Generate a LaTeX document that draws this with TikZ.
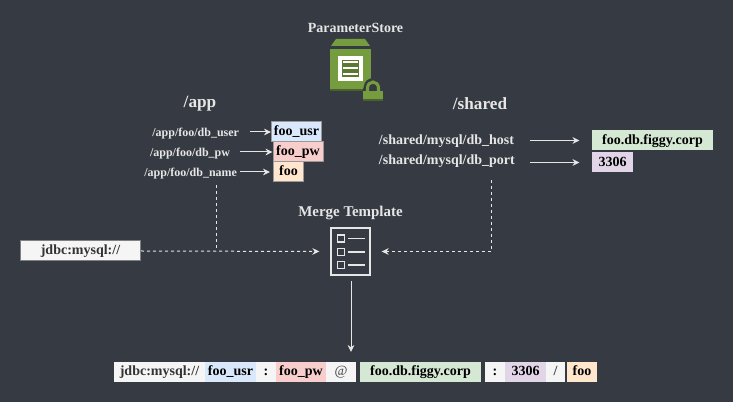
\documentclass[tikz,border=0pt]{standalone}
\usepackage{fontspec}
\usepackage{xcolor}
\setmainfont{Liberation Serif}
\usetikzlibrary{
    arrows.meta
}
\definecolor{bgdark}{HTML}{363A42}
\definecolor{lighttext}{HTML}{E6E6E6}
\definecolor{storegreen}{HTML}{759C3E}
\definecolor{storedark}{HTML}{4B612C}
\definecolor{usrblue}{HTML}{DAE8FC}
\definecolor{pwred}{HTML}{F8CECC}
\definecolor{dborange}{HTML}{FFE6CC}
\definecolor{hostgreen}{HTML}{D5E8D4}
\definecolor{portpurple}{HTML}{E1D5E7}
\definecolor{plainwhite}{HTML}{F5F5F5}

\begin{document}
\begin{tikzpicture}[x=0.75pt,y=-0.75pt,>={Stealth[length=5.25pt,width=5pt]},line width=0.75pt]
    \tikzstyle{every node}=[font=\fontsize{10.5}{12}\selectfont\bfseries]
    \tikzstyle{title}=[text=lighttext]
    \tikzstyle{keylabel}=[text=lighttext,font=\fontsize{9}{11}\selectfont\bfseries]
    \tikzstyle{sharedlabel}=[text=lighttext,anchor=west]
    \tikzstyle{valbox}=[inner sep=0pt,text=black,minimum height=15pt,text height=7.5pt,text depth=2pt]
    \tikzstyle{flow}=[->,draw=lighttext]
    \tikzstyle{dashflow}=[draw=lighttext,dash pattern=on 2.25pt off 2.25pt]
    \fill[bgdark] (0,0) rectangle (733,402);
    \useasboundingbox (0,0) rectangle (733,402);
    % parameter store icon
    \node[title] (store) at (355.5,28) {ParameterStore};
    \fill[storegreen] (331,46) -- (336,39) -- (365,39) -- (370,46) -- cycle;
    \fill[storegreen] (330,49) rectangle (371,91);
    \fill[storedark] (330,89) rectangle (371,91);
    \draw[white,line width=2.6pt] (340,58) rectangle (361,79);
    \fill[storedark!60!storegreen] (342,60) rectangle (359,77);
    \foreach \rowy in {62,68,74} \fill[white] (343,\rowy-1) rectangle (358,\rowy+1);
    \fill[bgdark] (362,92) -- (364,86) arc (180:360:9.5 and 8) -- (382,92) -- cycle;
    \draw[storegreen,line width=2.3pt] (367.5,92) -- (367.5,88) arc (180:360:5.5 and 6) -- (378.5,92);
    \fill[storegreen] (363,91) rectangle (383,101);
    \fill[storedark] (363,99.5) rectangle (383,101);
    % section titles
    \node[title,font=\fontsize{12.9}{15}\selectfont\bfseries] (app) at (200,103.5) {/app};
    \node[title,font=\fontsize{12.9}{15}\selectfont\bfseries] (shared) at (480,103.5) {/shared};
    % app keys and values
    \node[keylabel,anchor=east] (kuser) at (244,134) {/app/foo/db\_user};
    \node[keylabel,anchor=east] (kpw) at (235,154) {/app/foo/db\_pw};
    \node[keylabel,anchor=east] (kname) at (242,174) {/app/foo/db\_name};
    \node[valbox,fill=usrblue,draw=gray!80,minimum width=37.5pt] (usr) at (296.5,132) {foo\_usr};
    \node[valbox,fill=pwred,draw=gray!80,minimum width=37.5pt] (pw) at (298,152) {foo\_pw};
    \node[valbox,fill=dborange,draw=gray!80,minimum width=22.5pt] (dbn) at (288.5,172) {foo};
    \draw[flow,shorten <=4.5pt] (kuser.east |- usr.west) -- (usr.west);
    \draw[flow,shorten <=3.75pt] (kpw.east |- pw.west) -- (pw.west);
    \draw[flow,shorten <=-1.5pt,shorten >=2.25pt] (kname.east |- dbn.west) -- (dbn.west);
    % shared keys and values
    \node[sharedlabel] (khost) at (374,141) {/shared/mysql/db\_host};
    \node[sharedlabel] (kport) at (374,161) {/shared/mysql/db\_port};
    \node[valbox,fill=hostgreen,minimum width=90.75pt] (host) at (652.5,140.5) {foo.db.figgy.corp};
    \node[valbox,fill=portpurple,minimum width=30.75pt] (port) at (612.5,162.5) {3306};
    \coordinate (shost) at (530,140.5);
    \coordinate (sport) at (530,162.5);
    \draw[flow,shorten >=9pt] (shost) -- (host.west);
    \draw[flow,shorten >=9pt] (sport) -- (port.west);
    % merge template
    \node[title,font=\fontsize{11.2}{13}\selectfont\bfseries] (merge) at (350.5,212.5) {Merge Template};
    \node[draw=lighttext,line width=1pt,minimum width=29.25pt,minimum height=35.25pt,inner sep=0pt] (tmpl) at (350.5,251.5) {};
    \foreach \rowy in {238.5,252,265} {
        \draw[lighttext,line width=1.1pt] (337.5,\rowy-3.5) rectangle (344.5,\rowy+3.5);
        \draw[lighttext,line width=0.9pt] (348,\rowy) -- (364.5,\rowy);
    }
    \node[valbox,fill=plainwhite,draw=gray,text=black!80,minimum width=90pt] (jdbc) at (80.5,251) {jdbc:mysql://};
    \coordinate (appdrop) at (216,185);
    \coordinate (shdrop) at (491,180);
    \draw[dashflow,->,shorten >=8.25pt] (jdbc.east) -- (tmpl.west);
    \draw[dashflow] (appdrop) -- (216,251);
    \draw[dashflow,->,shorten >=8.25pt] (shdrop) |- (tmpl.east);
    % merged result
    \node[valbox,fill=plainwhite,text=black!80,minimum width=68.25pt] (rjdbc) at (159.5,372) {jdbc:mysql://};
    \node[valbox,fill=usrblue,minimum width=38.25pt] (rusr) at (230.5,372) {foo\_usr};
    \node[valbox,fill=plainwhite,minimum width=15pt] (rc) at (266,372) {:};
    \node[valbox,fill=pwred,minimum width=37.5pt] (rpw) at (301,372) {foo\_pw};
    \node[valbox,fill=plainwhite,text=black!75,minimum width=22.5pt,font=\fontsize{10.5}{12}\selectfont] (rat) at (341,372) {@};
    \node[valbox,fill=hostgreen,minimum width=90.75pt] (rhost) at (420.5,372) {foo.db.figgy.corp};
    \node[valbox,fill=plainwhite,minimum width=15pt] (rcb) at (495,372) {:};
    \node[valbox,fill=portpurple,minimum width=30.75pt] (rport) at (525.5,372) {3306};
    \node[valbox,fill=plainwhite,text=black!75,minimum width=14.25pt] (rsl) at (555.5,372) {/};
    \node[valbox,fill=dborange,minimum width=22.5pt] (rfoo) at (582,372) {foo};
    \coordinate (tmplout) at (351,281);
    \coordinate (rin) at (351,352);
    \draw[flow] (tmplout) -- (rin);
\end{tikzpicture}
\end{document}
